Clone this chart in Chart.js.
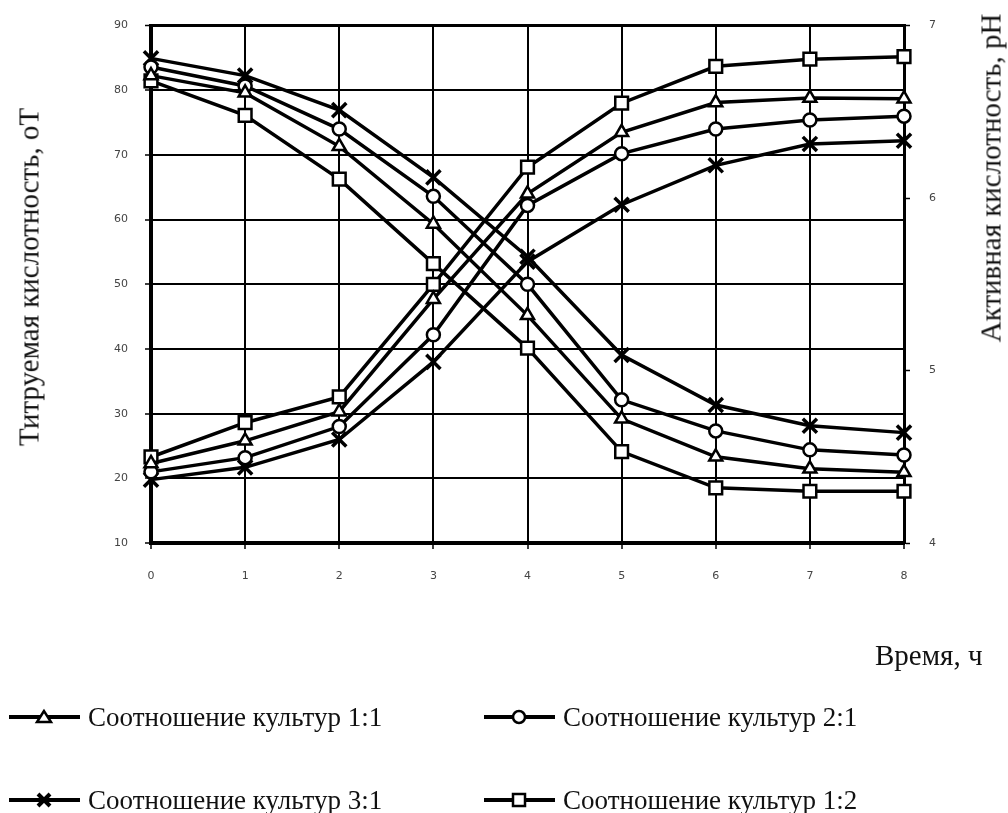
<!DOCTYPE html>
<html>
<head>
<meta charset="utf-8">
<script src="https://cdn.jsdelivr.net/npm/chart.js@4/dist/chart.umd.min.js"></script>
<style>
  body { margin: 0; background: #fff; }
  #wrap { position: relative; width: 1008px; height: 813px; overflow: hidden;
          font-family: "Liberation Serif", "Times New Roman", serif; color: #111; }
  #chart { position: absolute; left: 0; top: 0; }
  .txt { position: absolute; white-space: nowrap; font-size: 29px; line-height: 1; }
  .rot { transform: translate(-50%, -50%) rotate(-90deg); }
  .leg { position: absolute; height: 30px; display: flex; align-items: center; font-size: 27px; white-space: nowrap; }
  .leg svg { margin-right: 6px; }
</style>
</head>
<body>
<div id="wrap">
  <canvas id="chart" width="1008" height="813"></canvas>
  <div class="txt rot" style="left:29px; top:277px;">Титруемая кислотность, оТ</div>
  <div class="txt rot" style="left:991px; top:178px;">Активная кислотность, рН</div>
  <div class="txt" style="left:875px; top:641px;">Время, ч</div>
  <div id="legend"></div>
</div>
<script>
// ================= Data =================
const hours = ['0', '1', '2', '3', '4', '5', '6', '7', '8'];

// titratable acidity, °T (left axis)
const titr11 = [22.3, 25.8, 30.3, 47.7, 64.0, 73.5, 78.1, 78.8, 78.7];
const titr21 = [21.0, 23.2, 28.0, 42.2, 62.2, 70.2, 74.0, 75.4, 76.0];
const titr31 = [19.8, 21.7, 26.0, 38.0, 53.5, 62.3, 68.4, 71.7, 72.2];
const titr12 = [23.3, 28.6, 32.6, 50.0, 68.1, 78.0, 83.7, 84.8, 85.2];

// active acidity, pH (right axis)
const ph11 = [6.71, 6.61, 6.30, 5.85, 5.32, 4.72, 4.50, 4.43, 4.41];
const ph21 = [6.76, 6.65, 6.40, 6.01, 5.50, 4.83, 4.65, 4.54, 4.51];
const ph31 = [6.81, 6.71, 6.51, 6.12, 5.66, 5.09, 4.80, 4.68, 4.64];
const ph12 = [6.68, 6.48, 6.11, 5.62, 5.13, 4.53, 4.32, 4.30, 4.30];

const legendNames = ['Соотношение культур 1:1', 'Соотношение культур 2:1',
                     'Соотношение культур 3:1', 'Соотношение культур 1:2'];

// ================= Chart =================
const markers = {
  triangle: { pointStyle: 'triangle', pointRadius: 7.5 },
  circle:   { pointStyle: 'circle',   pointRadius: 6.5 },
  crossRot: { pointStyle: 'crossRot', pointRadius: 10 },
  rect:     { pointStyle: 'rect',     pointRadius: 9 }
};

function series(label, data, axis, marker) {
  return {
    label: label,
    data: data,
    yAxisID: axis,
    borderColor: '#000',
    borderWidth: 3.5,
    tension: 0,
    fill: false,
    pointBackgroundColor: '#fff',
    pointBorderColor: '#000',
    pointBorderWidth: marker === 'crossRot' ? 3.5 : 2.5,
    clip: false,
    ...markers[marker]
  };
}

const tickFont = { family: 'DejaVu Sans', size: 11 };

new Chart(document.getElementById('chart').getContext('2d'), {
  type: 'line',
  data: {
    labels: hours,
    datasets: [
      series('ph11', ph11, 'y1', 'triangle'),
      series('ph21', ph21, 'y1', 'circle'),
      series('ph31', ph31, 'y1', 'crossRot'),
      series('ph12', ph12, 'y1', 'rect'),
      series('titr11', titr11, 'y', 'triangle'),
      series('titr21', titr21, 'y', 'circle'),
      series('titr31', titr31, 'y', 'crossRot'),
      series('titr12', titr12, 'y', 'rect')
    ]
  },
  options: {
    responsive: false,
    animation: false,
    devicePixelRatio: 1,
    layout: { padding: { top: 20, bottom: 220, left: 0, right: 0 } },
    plugins: { legend: { display: false }, tooltip: { enabled: false } },
    scales: {
      x: {
        grid: { color: '#000', lineWidth: 2, tickLength: 6, tickColor: '#000', tickWidth: 1.5 },
        border: { color: '#000', width: 4 },
        ticks: { color: '#444', font: tickFont, padding: 21, maxRotation: 0 },
        afterFit: s => { s.height = 50; }
      },
      y: {
        position: 'left',
        min: 10, max: 90,
        grid: {
          color: '#000',
          lineWidth: ctx => (ctx.tick && ctx.tick.value === 90 ? 3 : 2),
          tickLength: 6, tickColor: '#000', tickWidth: 1.5
        },
        border: { color: '#000', width: 4 },
        ticks: { stepSize: 10, color: '#444', font: tickFont, padding: 17 },
        afterFit: s => { s.width = 151; }
      },
      y1: {
        position: 'right',
        min: 4, max: 7,
        grid: { drawOnChartArea: false, tickLength: 6, tickColor: '#000', tickWidth: 1.5 },
        border: { color: '#000', width: 3 },
        ticks: { stepSize: 1, color: '#444', font: tickFont, padding: 19 },
        afterFit: s => { s.width = 104; }
      }
    }
  }
});

// ================= Legend =================
function markerSvg(kind) {
  const c = 'stroke="#000" stroke-width="2.5" fill="#fff"';
  if (kind === 'triangle') return `<polygon points="36,9 29,20 43,20" ${c}/>`;
  if (kind === 'circle') return `<circle cx="36" cy="15" r="6" ${c}/>`;
  if (kind === 'crossRot') return `<path d="M30,9 L42,21 M42,9 L30,21" stroke="#000" stroke-width="4"/>`;
  return `<rect x="30" y="9" width="12" height="12" ${c}/>`;
}

const legendItems = [
  { name: legendNames[0], marker: 'triangle', x: 8,   y: 702 },
  { name: legendNames[1], marker: 'circle',   x: 483, y: 702 },
  { name: legendNames[2], marker: 'crossRot', x: 8,   y: 785 },
  { name: legendNames[3], marker: 'rect',     x: 483, y: 785 }
];

const legend = document.getElementById('legend');
legendItems.forEach(it => {
  const div = document.createElement('div');
  div.className = 'leg';
  div.style.left = it.x + 'px';
  div.style.top = it.y + 'px';
  div.innerHTML = `<svg width="74" height="30"><line x1="1" y1="15" x2="72" y2="15" stroke="#000" stroke-width="4"/>${markerSvg(it.marker)}</svg><span>${it.name}</span>`;
  legend.appendChild(div);
});
</script>
</body>
</html>
